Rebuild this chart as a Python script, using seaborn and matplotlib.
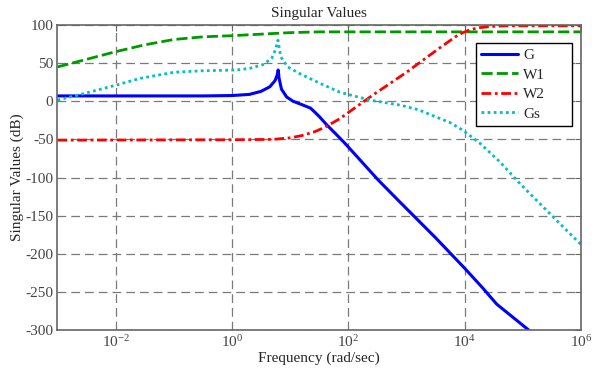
import numpy as np
import pandas as pd
import matplotlib
matplotlib.use("Agg")
import matplotlib.pyplot as plt
import seaborn as sns
from matplotlib.ticker import FixedLocator, NullLocator

# log10 of frequency (rad/sec) and singular values (dB)
g_logw = [-3, -1, -0.5, 0, 0.3, 0.5, 0.65, 0.74, 0.78, 0.794, 0.81, 0.85, 0.94,
          1.05, 1.22, 1.35, 1.42, 1.5, 1.63, 1.8, 1.94, 2.0, 2.51, 2.885, 3.5, 3.8,
          4.0, 4.3, 4.55, 5.1]
g_db = [7, 7, 7, 7.5, 9, 13, 19, 27, 35, 41, 30, 16, 5.6,
        0, -5, -9, -14, -20, -31, -44, -55, -60, -103, -132, -179, -203,
        -219, -244, -266, -300]

w1_logw = [-3, -2.5, -2, -1.5, -1, -0.5, 0, 0.5, 1, 1.5, 2, 4, 6]
w1_db = [45, 55, 65, 74, 81, 84.5, 86, 88, 90, 91, 91, 91, 91]

w2_logw = [-3, 0, 0.7, 1.0, 1.2, 1.42, 1.6, 1.85, 2.4, 3.0, 3.57, 3.85, 3.97,
           4.1, 4.25, 4.45, 4.7, 6]
w2_db = [-51, -50.5, -50, -48, -45, -40, -34, -23, 7, 38, 70, 85, 90,
         94, 96.5, 98, 99, 99]

gs_logw = [-3, -2.5, -2, -1.58, -1, -0.5, 0.08, 0.3, 0.53, 0.68, 0.75, 0.79, 0.84, 0.96,
           1.17, 1.5, 1.85, 2.0, 2.37, 2.885, 3.2, 3.457, 3.75, 3.97, 4.26, 4.6,
           4.95, 5.29, 5.63, 6.0]
gs_db = [1.5, 11, 21, 30, 38, 40, 41, 43, 48, 56, 68, 80, 58, 45,
         36, 24, 12, 9, 1.5, -5, -11, -19, -28, -38, -55, -79,
         -108, -134, -160, -188]

labels = ["G", "W1", "W2", "Gs"]
colors = ["#0000ff", "#009900", "#ff0000", "#00c0c0"]
dashes = ["-", (0, (4, 1.5)), (0, (3.5, 1.3, 1, 1.3)), (0, (1, 1.2))]
widths = [2.2, 2.0, 2.0, 2.0]

sns.set_style("white")
plt.rcParams["font.family"] = ["Liberation Serif", "DejaVu Serif"]
plt.rcParams["mathtext.fontset"] = "stix"
plt.rcParams["axes.unicode_minus"] = False

fig = plt.figure(figsize=(5.92, 3.76), dpi=100)
ax = fig.add_axes([0.0971, 0.1223, 0.8843, 0.8112])
ax.set_xscale("log")

series = [(g_logw, g_db), (w1_logw, w1_db), (w2_logw, w2_db), (gs_logw, gs_db)]
for (lw_x, db), lab, col, ls, lw in zip(series, labels, colors, dashes, widths):
    df = pd.DataFrame({"freq": 10.0 ** np.array(lw_x), "db": db})
    sns.lineplot(data=df, x="freq", y="db", ax=ax, color=col, linestyle=ls,
                 linewidth=lw, label=lab)

ax.set_xlim(1e-3, 1e6)
ax.set_ylim(-300, 100)
ax.xaxis.set_major_locator(FixedLocator([1e-2, 1e0, 1e2, 1e4, 1e6]))
ax.xaxis.set_minor_locator(NullLocator())
ax.set_yticks(np.arange(-300, 101, 50))

ax.grid(True, color="#7a7a7a", linestyle=(0, (7, 4)), linewidth=0.9)
for sp in ax.spines.values():
    sp.set_color("#666666")
    sp.set_linewidth(1.2)
ax.tick_params(direction="in", length=4, width=0.8, color="#666666",
               top=True, right=True, labelsize=11, labelcolor="#444444", pad=3)

ax.set_title("Singular Values", fontsize=11, pad=6)
ax.set_xlabel("Frequency (rad/sec)", fontsize=11, labelpad=1)
ax.set_ylabel("Singular Values (dB)", fontsize=11, labelpad=1)

leg = ax.legend(loc="upper left", bbox_to_anchor=(0.7994, 0.669, 0.1834, 0.272),
                mode="expand", fontsize=11,
                frameon=True, fancybox=False, edgecolor="black", framealpha=1,
                handlelength=2.4, handletextpad=0.35, labelspacing=0.38,
                borderpad=0.35, borderaxespad=0)
leg.get_frame().set_linewidth(1.0)

fig.savefig("out.png", dpi=100)
